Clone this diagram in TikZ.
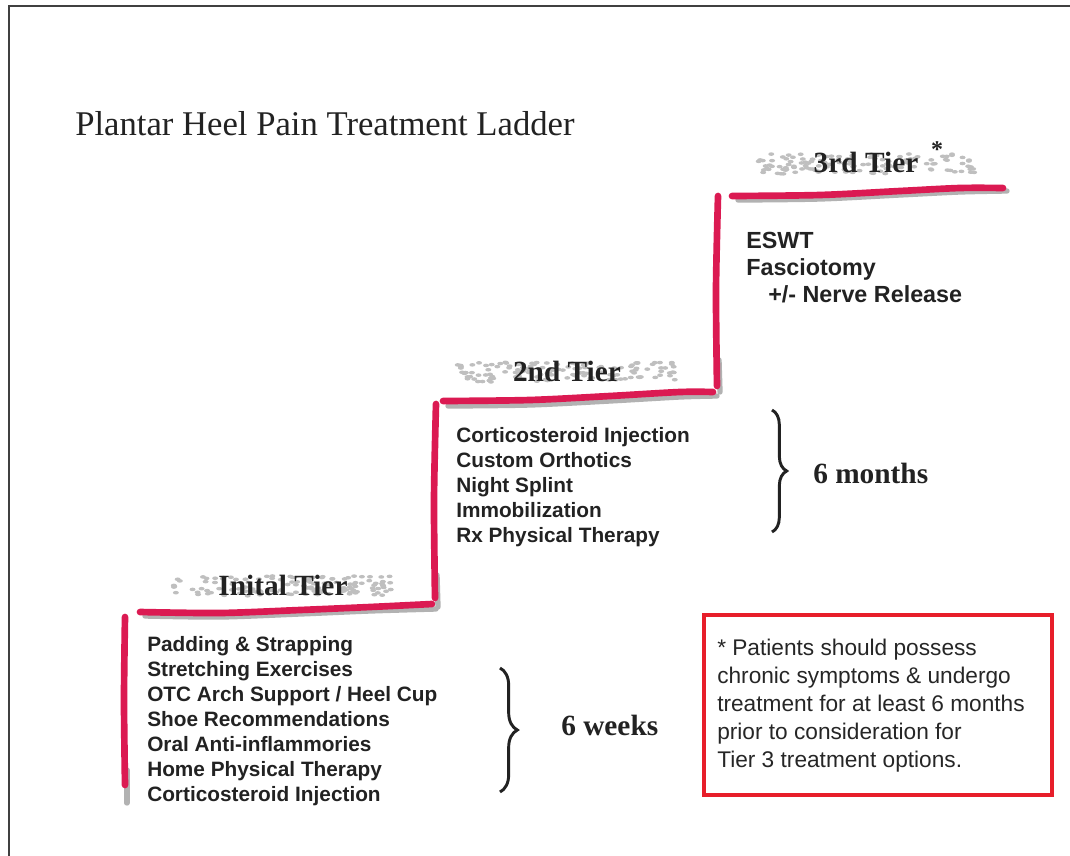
\documentclass[tikz,border=0pt]{standalone}
\usepackage{fontspec}
\setmainfont{Liberation Serif}
\setsansfont{Liberation Sans}
\usetikzlibrary{positioning,decorations.pathreplacing}

\definecolor{brushred}{RGB}{219,26,82}
\definecolor{boxred}{RGB}{231,30,42}
\definecolor{ink}{RGB}{34,34,34}

\tikzset{
  brush/.style={brushred, line width=5pt, line cap=round},
  shade/.style={black!30, line width=4pt, line cap=round},
  tier/.style={ink, anchor=base, inner sep=0pt, font=\bfseries\fontsize{22}{26}\selectfont},
  item/.style={ink, anchor=base west, inner sep=0pt, font=\sffamily\bfseries\fontsize{15.6}{18}\selectfont},
  bigitem/.style={item, font=\sffamily\bfseries\fontsize{17.5}{20}\selectfont},
  note/.style={black!85, anchor=base west, inner sep=0pt, font=\sffamily\fontsize{17}{21}\selectfont},
  lapse/.style={ink, anchor=base west, inner sep=0pt, font=\bfseries\fontsize{22}{26}\selectfont},
}

\begin{document}
\begin{tikzpicture}[x=0.75pt,y=-0.75pt]
\useasboundingbox (0,0) rectangle (1070,856);
\draw[line width=1.6pt, black!75] (9,856) -- (9,6) -- (1070,6);%le cadre

\node[ink, anchor=base west, inner sep=0pt, font=\fontsize{26}{30}\selectfont] (titre) at (75,135) {Plantar Heel Pain Treatment Ladder};

% les taches grises
\pgfmathsetseed{11}
\foreach \cx/\cy in {283/586, 567/372, 866/164}{
  \foreach \k in {1,...,130}{
    \pgfmathsetmacro{\dx}{rand*110}
    \pgfmathsetmacro{\dy}{rand*10}
    \fill[black!25] (\cx+\dx,\cy+\dy) ellipse (3 and 1.8);
  }
}

% les marches (ombre puis rouge)
\draw[shade] (127,770) -- (127,803);
\draw[brush] plot[smooth] coordinates {(125,617) (124,700) (125,785)};
\draw[shade] plot[smooth] coordinates {(145,616) (220,617) (300,614) (370,611) (436,609)};
\draw[brush] plot[smooth] coordinates {(140,612) (220,613) (300,610) (370,607) (432,604)};

\draw[shade] (437,575) -- (438,607);
\draw[brush] plot[smooth] coordinates {(435,598) (434,500) (436,404)};
\draw[shade] plot[smooth] coordinates {(448,406) (530,405) (610,401) (680,397) (717,396)};
\draw[brush] plot[smooth] coordinates {(443,401) (530,400) (610,396) (680,392) (713,392)};

\draw[shade] (719,360) -- (720,392);
\draw[brush] plot[smooth] coordinates {(717,386) (716,290) (718,196)};
\draw[shade] plot[smooth] coordinates {(738,200) (820,199) (900,195) (960,192) (1007,191)};
\draw[brush] plot[smooth] coordinates {(732,196) (820,195) (900,191) (960,188) (1003,188)};

% les titres des marches
\node[tier] (t1) at (283,595) {Inital Tier};
\node[tier] (t2) at (567,381) {2nd Tier};
\node[tier] (t3) at (866,172) {3rd Tier};
\node[ink, inner sep=0pt, font=\bfseries\fontsize{18}{20}\selectfont] (etoile) at (937,150) {*};

% les listes
\foreach \t [count=\i] in {Padding \& Strapping, Stretching Exercises, OTC Arch Support / Heel Cup, Shoe Recommendations, Oral Anti-inflammories, Home Physical Therapy, Corticosteroid Injection}
  \node[item] (a\i) at (147,626+25*\i) {\t};

\foreach \t [count=\i] in {Corticosteroid Injection, Custom Orthotics, Night Splint, Immobilization, Rx Physical Therapy}
  \node[item] (b\i) at (456,417+25*\i) {\t};

\node[bigitem] (c1) at (746,248) {ESWT};
\node[bigitem] (c2) at (746,275) {Fasciotomy};
\node[bigitem] (c3) at (768,302) {+/- Nerve Release};

% les accolades
\draw[ink, line width=2.2pt, decorate, decoration={brace, amplitude=13pt}] (500,668) -- (500,792);
\node[lapse] (w6) at (561,735) {6 weeks};
\draw[ink, line width=2.2pt, decorate, decoration={brace, amplitude=11pt}] (772,410) -- (772,532);
\node[lapse] (m6) at (813,483) {6 months};

% la note
\draw[boxred, line width=3pt] (704,615) rectangle (1052,795);
\node[note] (n1) at (717,655) {* Patients should possess};
\node[note] (n2) at (717,683) {chronic symptoms \& undergo};
\node[note] (n3) at (717,711) {treatment for at least 6 months};
\node[note] (n4) at (717,739) {prior to consideration for};
\node[note] (n5) at (717,767) {Tier 3 treatment options.};

\end{tikzpicture}
\end{document}
